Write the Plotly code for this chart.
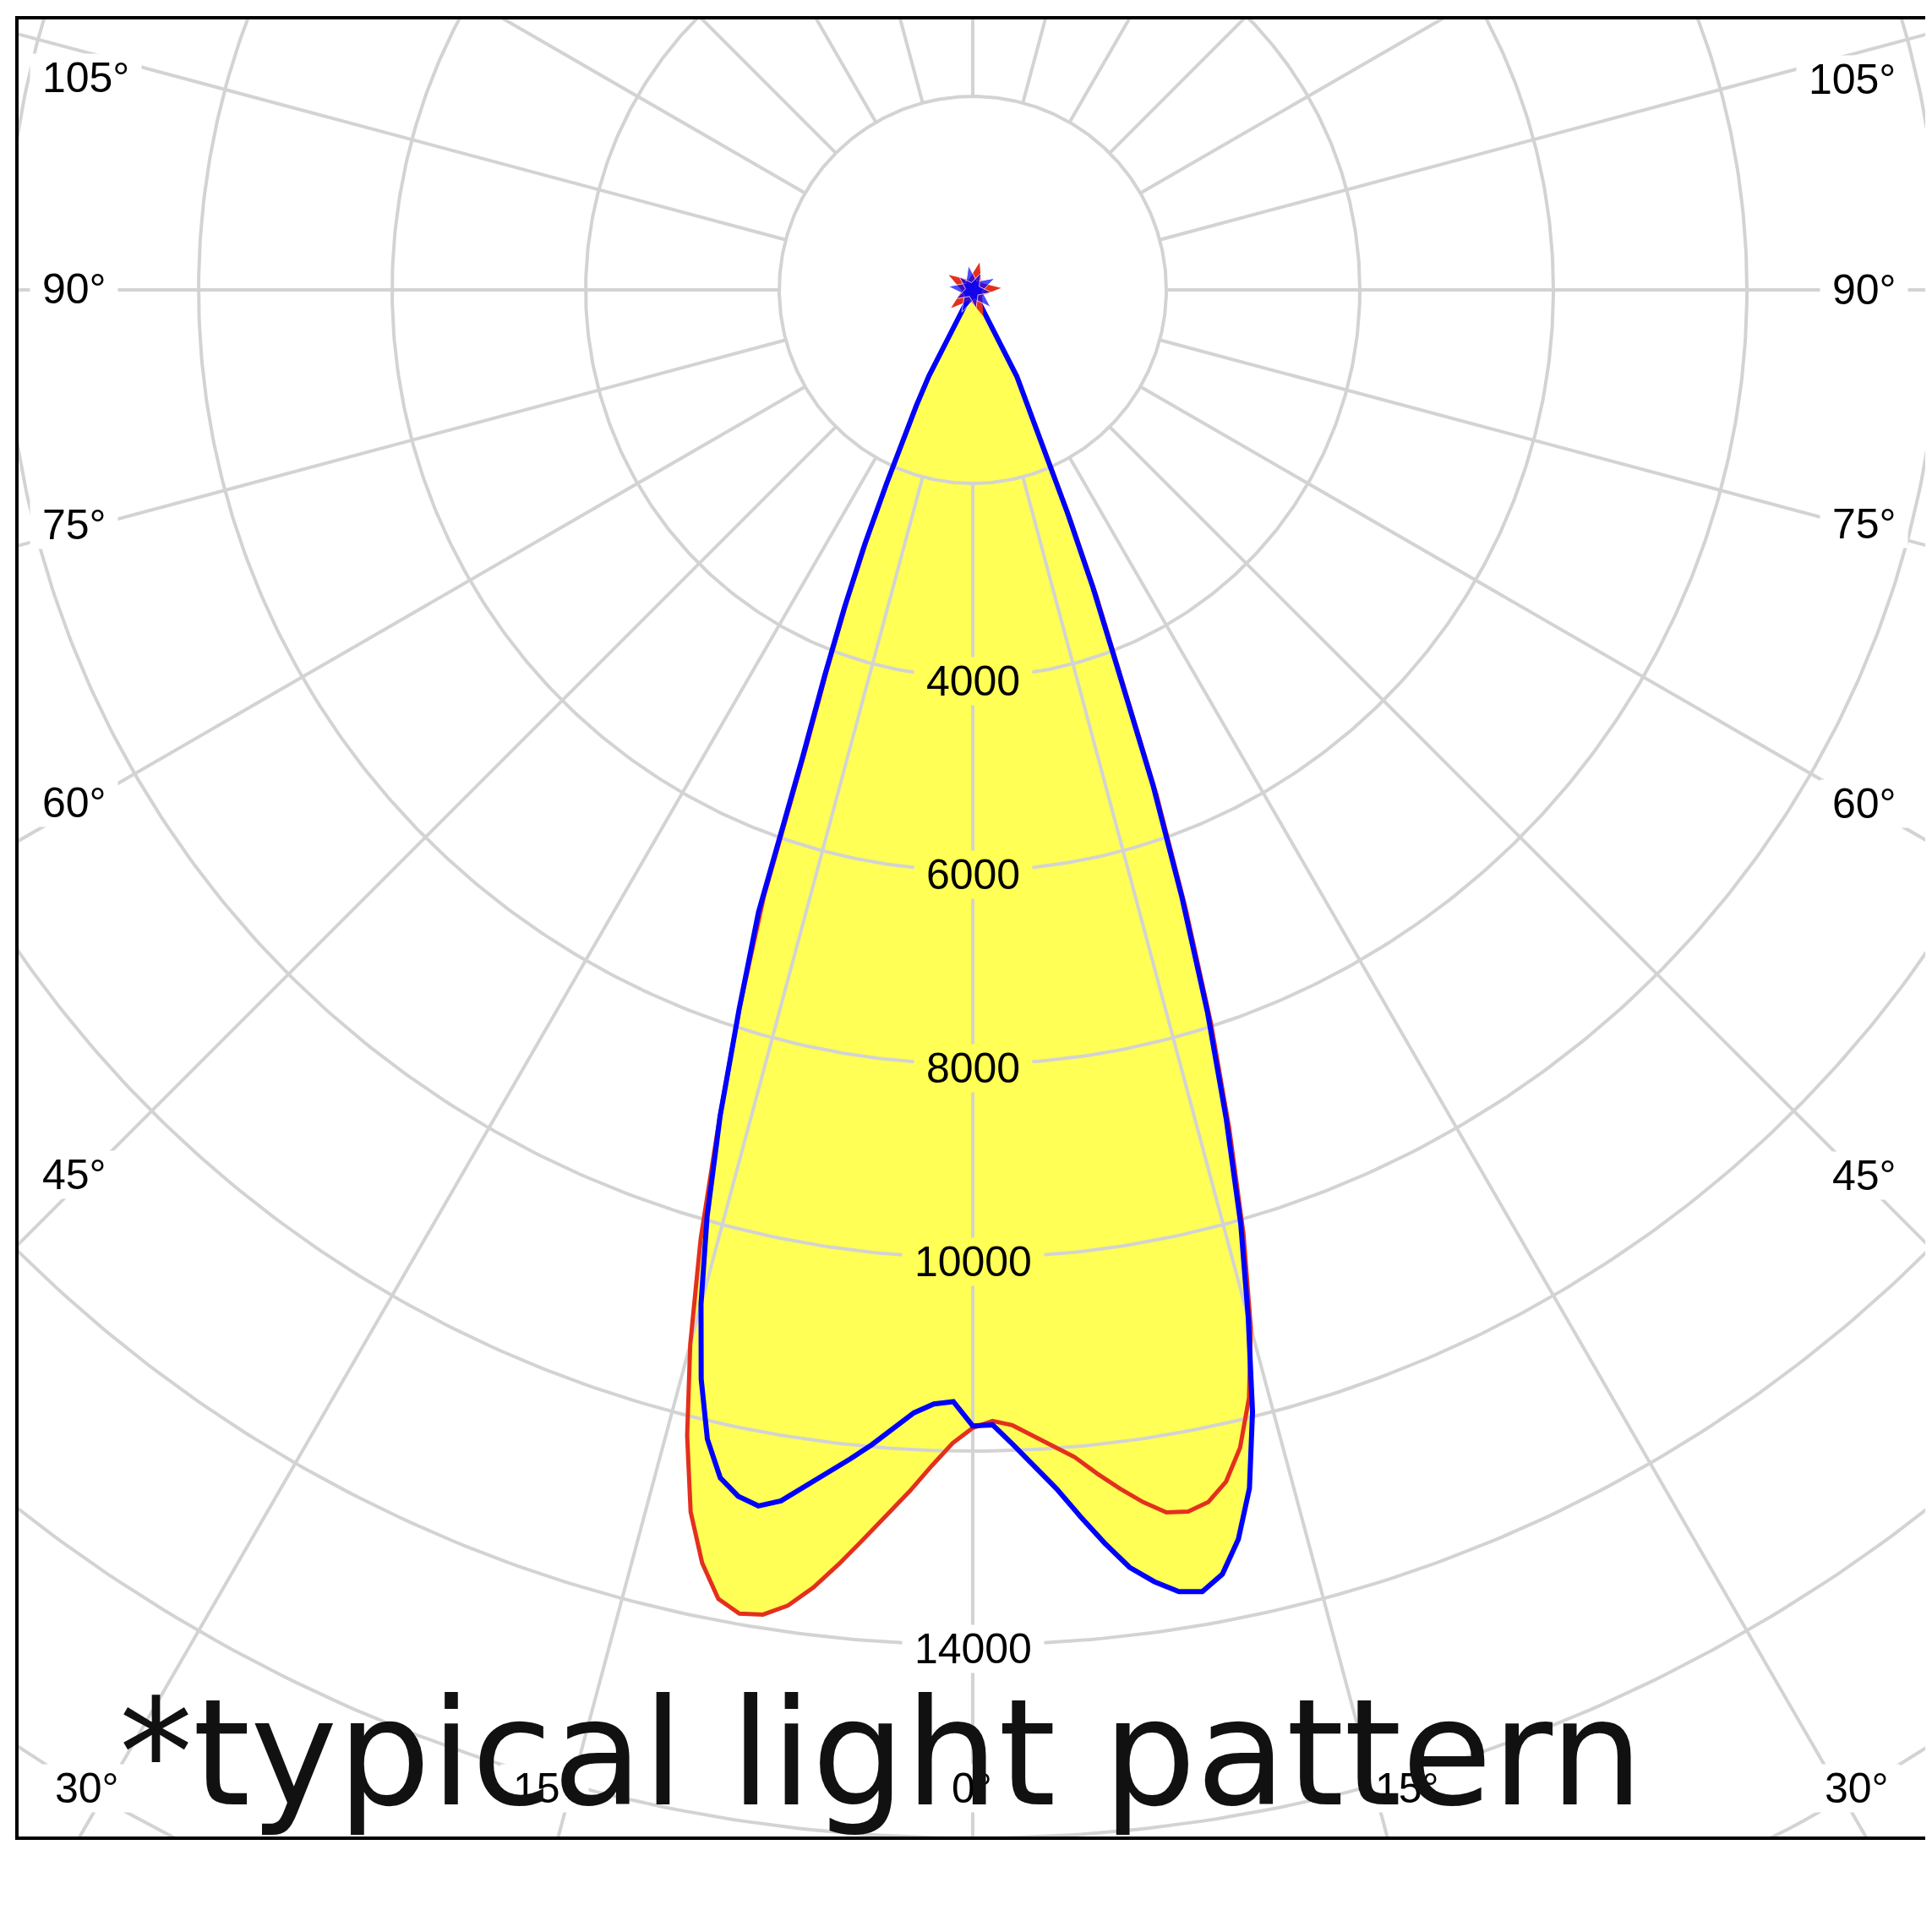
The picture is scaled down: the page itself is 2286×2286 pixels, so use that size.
import numpy as np
import plotly.graph_objects as go

# ---------------- data ----------------
ANGLES_DEG = [-28, -27, -26, -25, -24, -23, -22, -21, -20, -19, -18, -17, -16, -15,
              -14, -13, -12, -11, -10, -9, -8, -7, -6, -5, -4, -3, -2, -1, 0,
              1, 2, 3, 4, 5, 6, 7, 8, 9, 10, 11, 12, 13, 14,
              15, 16, 17, 18, 19, 20, 21, 22, 23, 24, 25, 26, 27, 28]

RED_CD = [0, 980, 1300, 1680, 2150, 2800, 3480, 4200, 5050, 6630, 7800, 8950, 10200, 11280,
          12200, 12960, 13450, 13780, 13890, 13860, 13730, 13510, 13240, 12960, 12690, 12430, 12160, 11920, 11760,
          11690, 11740, 11860, 11980, 12110, 12300, 12480, 12650, 12790, 12820, 12760, 12590, 12280, 11800,
          11100, 10150, 9070, 7960, 6750, 5550, 4240, 3400, 2600, 1940, 1480, 1200, 1020, 0]

BLUE_CD = [0, 1000, 1330, 1720, 2190, 2860, 3540, 4270, 5150, 6800, 7810, 8930, 9960, 10850,
           11600, 12190, 12550, 12700, 12760, 12670, 12490, 12310, 12150, 11980, 11800, 11620, 11520, 11490, 11740,
           11730, 11940, 12170, 12420, 12720, 13020, 13300, 13480, 13620, 13660, 13520, 13200, 12710, 11950,
           11000, 10050, 8960, 7850, 6640, 5440, 4130, 3310, 2510, 1850, 1410, 1140, 1000, 0]

RING_VALUES = [2000, 4000, 6000, 8000, 10000, 12000, 14000, 16000, 18000, 20000]
RING_LABEL_VALUES = [4000, 6000, 8000, 10000, 14000]
RING_LABEL_BG = ["#FFFF55", "#FFFF55", "#FFFF55", "#FFFF55", "#FFFFFF"]
SPOKE_ANGLES = [0, 15, 30, 45, 60, 75, 90, 105, 120, 135, 150, 165,
                180, 195, 210, 225, 240, 255, 270, 285, 300, 315, 330, 345]
SIDE_LABELS = ["105°", "90°", "75°", "60°", "45°"]
SIDE_LABEL_Y_LEFT = [84, 334, 613, 942, 1382]
SIDE_LABEL_Y_RIGHT = [86, 335, 612, 943, 1383]
BOTTOM_LABELS = ["30°", "15°", "0°", "15°", "30°"]
BOTTOM_LABEL_X = [94, 636, 1142, 1656, 2188]
TITLE_TEXT = "*typical light pattern"

# ---------------- geometry / style ----------------
W = H = 2286
ML, MR, MT, MB = 14, 16, 15, 121
PLOT_W = W - ML - MR
PLOT_H = H - MT - MB
CX, CY = 1143, 335          # pole position in page pixels
K = 0.1145                  # pixels per cd
X_RANGE = [(ML - CX) / K, (W - MR - CX) / K]
Y_RANGE = [-(H - MB - CY) / K, (CY - MT) / K]

YELLOW = "#FFFF55"
RED = "#E3301E"
BLUE = "#0000FF"
GRID = "#D3D3D3"
LABEL_FONT = "Liberation Sans"
TITLE_FONT = "DejaVu Sans"


def to_xy(angles, values):
    a = np.radians(np.asarray(angles, dtype=float))
    v = np.asarray(values, dtype=float)
    return v * np.sin(a), -v * np.cos(a)


def paper_x(px):
    return (px - ML) / PLOT_W


def paper_y(py):
    return (H - MB - py) / PLOT_H


fig = go.Figure()

rx, ry = to_xy(ANGLES_DEG, RED_CD)
bx, by = to_xy(ANGLES_DEG, BLUE_CD)

# yellow fills (union of both planes)
for xs, ys in ((rx, ry), (bx, by)):
    fig.add_trace(go.Scatter(x=xs, y=ys, mode="lines", fill="toself",
                             fillcolor=YELLOW, line=dict(width=0, color=YELLOW),
                             hoverinfo="skip", showlegend=False))

# grid rings
t = np.linspace(0, 2 * np.pi, 721)
gx, gy = [], []
for r in RING_VALUES:
    gx += list(r * np.cos(t)) + [None]
    gy += list(r * np.sin(t)) + [None]
fig.add_trace(go.Scatter(x=gx, y=gy, mode="lines", line=dict(color=GRID, width=4),
                         hoverinfo="skip", showlegend=False))

# grid spokes (start at the first ring)
sx, sy = [], []
for a in SPOKE_ANGLES:
    x0, y0 = to_xy([a], [RING_VALUES[0]])
    x1, y1 = to_xy([a], [RING_VALUES[-1] + 5000])
    sx += [x0[0], x1[0], None]
    sy += [y0[0], y1[0], None]
fig.add_trace(go.Scatter(x=sx, y=sy, mode="lines", line=dict(color=GRID, width=4),
                         hoverinfo="skip", showlegend=False))

# curves
fig.add_trace(go.Scatter(x=rx, y=ry, mode="lines", line=dict(color=RED, width=5),
                         hoverinfo="skip", showlegend=False))
fig.add_trace(go.Scatter(x=bx, y=by, mode="lines", line=dict(color=BLUE, width=6),
                         hoverinfo="skip", showlegend=False))

# pole markers (spiky start/end points)
fig.add_trace(go.Scatter(x=[rx[0]], y=[ry[0]], mode="markers",
                         marker=dict(symbol="star", size=48, color=RED, angle=14),
                         hoverinfo="skip", showlegend=False))
fig.add_trace(go.Scatter(x=[bx[0], bx[-1]], y=[by[0], by[-1]], mode="markers",
                         marker=dict(symbol="star", size=[42, 32], color=BLUE, angle=[-10, 26]),
                         hoverinfo="skip", showlegend=False))

annotations = []
NB = "\u00a0"
for v, bg in zip(RING_LABEL_VALUES, RING_LABEL_BG):
    annotations.append(dict(x=0, y=-v, xref="x", yref="y", text=NB + str(v) + NB,
                            showarrow=False, yshift=-5, bgcolor=bg, borderpad=0,
                            font=dict(family=LABEL_FONT, size=50, color="#000000"),
                            xanchor="center", yanchor="middle"))
for lab, yl, yr in zip(SIDE_LABELS, SIDE_LABEL_Y_LEFT, SIDE_LABEL_Y_RIGHT):
    annotations.append(dict(x=paper_x(27), y=paper_y(yl), xref="paper", yref="paper",
                            text=NB + lab + NB, showarrow=False, bgcolor="#FFFFFF",
                            borderpad=0, font=dict(family=LABEL_FONT, size=50, color="#000000"),
                            xanchor="left", yanchor="middle"))
    annotations.append(dict(x=paper_x(2250), y=paper_y(yr), xref="paper", yref="paper",
                            text=NB + lab + NB, showarrow=False, bgcolor="#FFFFFF",
                            borderpad=0, font=dict(family=LABEL_FONT, size=50, color="#000000"),
                            xanchor="right", yanchor="middle"))
for lab, xb in zip(BOTTOM_LABELS, BOTTOM_LABEL_X):
    annotations.append(dict(x=paper_x(xb), y=paper_y(2108), xref="paper", yref="paper",
                            text=NB + lab + NB, showarrow=False, bgcolor="#FFFFFF",
                            borderpad=0, font=dict(family=LABEL_FONT, size=50, color="#000000"),
                            xanchor="center", yanchor="middle"))
annotations.append(dict(x=paper_x(131), y=paper_y(2066), xref="paper", yref="paper",
                        text=TITLE_TEXT, showarrow=False,
                        font=dict(family=TITLE_FONT, size=174, color="#111111"),
                        xanchor="left", yanchor="middle"))

axis_common = dict(showgrid=False, zeroline=False, showticklabels=False, ticks="",
                   showline=True, mirror=True, linecolor="#000000", linewidth=4,
                   fixedrange=True)
fig.update_layout(
    width=W, height=H,
    margin=dict(l=ML, r=MR, t=MT, b=MB),
    paper_bgcolor="#FFFFFF", plot_bgcolor="#FFFFFF",
    xaxis=dict(range=X_RANGE, **axis_common),
    yaxis=dict(range=Y_RANGE, **axis_common),
    showlegend=False, hovermode=False,
    annotations=annotations,
)

fig.write_html("out.html")
